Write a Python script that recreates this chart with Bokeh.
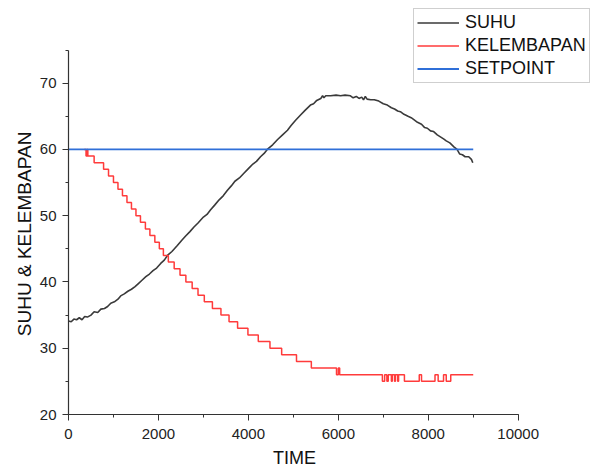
from bokeh.plotting import figure
from bokeh.models import Range1d, SingleIntervalTicker
from bokeh.embed import file_html
from bokeh.resources import INLINE

# SUHU (temperature) readings: (time, value)
time_suhu = [0, 60, 120, 180, 240, 300, 360, 420, 500, 570, 650, 720, 800, 870, 940,
             1020, 1100, 1160, 1240, 1320, 1400, 1480, 1560, 1640, 1720, 1800, 1880,
             1960, 2050, 2130, 2200, 2300, 2420, 2520, 2600, 2700, 2790, 2880, 3000,
             3080, 3160, 3250, 3350, 3440, 3530, 3620, 3700, 3800, 3900, 4000, 4100,
             4180, 4270, 4350, 4420, 4540, 4650, 4760, 4870, 4950, 5050, 5160, 5260,
             5380, 5450, 5520, 5610, 5650, 5680, 5720, 5830, 5950, 6050, 6150, 6270,
             6330, 6400, 6460, 6520, 6560, 6600, 6640, 6720, 6800, 6900, 7000, 7090,
             7180, 7250, 7320, 7380, 7460, 7550, 7620, 7680, 7760, 7850, 7920, 7980,
             8050, 8120, 8200, 8270, 8340, 8400, 8480, 8570, 8640, 8700, 8760, 8820,
             8900, 8960, 8990]
suhu = [34.1, 34.0, 34.4, 34.3, 34.6, 34.3, 34.8, 34.7, 35.0, 35.5, 35.4, 35.9, 36.0,
        36.3, 36.8, 37.0, 37.4, 37.9, 38.2, 38.6, 38.9, 39.3, 39.8, 40.3, 40.8, 41.2,
        41.7, 42.1, 42.8, 43.3, 44.0, 44.6, 45.5, 46.3, 46.9, 47.6, 48.3, 48.9, 49.8,
        50.2, 50.9, 51.6, 52.4, 53.0, 53.8, 54.5, 55.2, 55.7, 56.4, 57.1, 57.8, 58.2,
        58.9, 59.4, 60.0, 60.7, 61.5, 62.2, 62.9, 63.6, 64.4, 65.2, 65.9, 66.7, 66.9,
        67.4, 67.7, 68.1, 67.8, 68.1, 68.1, 68.2, 68.1, 68.2, 68.1, 67.8, 68.0, 67.7,
        67.9, 67.5, 68.0, 67.6, 67.5, 67.5, 67.3, 66.9, 66.7, 66.3, 66.1, 65.8, 65.7,
        65.3, 65.0, 64.8, 64.5, 64.1, 63.8, 63.3, 63.2, 62.8, 62.7, 62.2, 61.9, 61.6,
        61.3, 61.0, 60.4, 60.0, 59.3, 59.2, 58.9, 58.9, 58.5, 58.0]

# KELEMBAPAN (humidity) change points: value holds from each time until the next
time_kelembapan = [350, 390, 410, 430, 570, 780, 890, 1000, 1100, 1200, 1300, 1400,
                   1500, 1600, 1710, 1810, 1920, 2020, 2110, 2220, 2350, 2480, 2610,
                   2750, 2880, 3020, 3200, 3390, 3570, 3760, 3990, 4220, 4480, 4740,
                   5070, 5400, 5960, 6000, 6030, 6980, 7030, 7080, 7110, 7180, 7200,
                   7250, 7270, 7320, 7340, 7470, 7800, 7850, 8150, 8220, 8340, 8400,
                   8500, 9000]
kelembapan = [60, 59, 60, 59, 58, 57, 56, 55, 54, 53, 52, 51,
              50, 49, 48, 47, 46, 45, 44, 43, 42, 41, 40,
              39, 38, 37, 36, 35, 34, 33, 32, 31, 30, 29,
              28, 27, 26, 27, 26, 25, 26, 25, 26, 25, 26,
              25, 26, 25, 26, 25, 26, 25, 26, 25, 26, 25,
              26, 26]

# SETPOINT
time_setpoint = [0, 9000]
setpoint = [60, 60]

# axis extents drawn
x_axis_bounds = (0, 10000)
y_axis_bounds = (20, 75)

FONT = "Liberation Sans"
NB = "\u00a0"

p = figure(width=595, height=470, output_backend="svg", toolbar_location=None,
           x_range=Range1d(0, 11719), y_range=Range1d(20, 82.48),
           min_border_left=68, min_border_right=0, min_border_top=0,
           min_border_bottom=56, background_fill_color="white",
           border_fill_color="white")

p.xgrid.visible = False
p.ygrid.visible = False
p.outline_line_color = None

p.line(time_suhu, suhu, line_color="#3a3a3a", line_width=1.6, legend_label="SUHU")
p.step(time_kelembapan, kelembapan, mode="after", line_color="#ff3b3b",
       line_width=1.5, legend_label="KELEMBAPAN")
p.line(time_setpoint, setpoint, line_color="#2f6fd8", line_width=1.8,
       legend_label="SETPOINT")

p.xaxis.ticker = SingleIntervalTicker(interval=2000, num_minor_ticks=2)
p.yaxis.ticker = SingleIntervalTicker(interval=10, num_minor_ticks=2)
p.xaxis.bounds = x_axis_bounds
p.yaxis.bounds = y_axis_bounds
# trailing no-break spaces re-centre the labels on the drawn axis extents
p.xaxis.axis_label = "TIME" + NB * 15
p.yaxis.axis_label = "SUHU & KELEMBAPAN" + NB * 10

for ax in (p.xaxis[0], p.yaxis[0]):
    ax.axis_line_color = "#333333"
    ax.axis_line_width = 1.2
    ax.major_tick_line_color = "#333333"
    ax.minor_tick_line_color = "#333333"
    ax.major_tick_out = 6
    ax.major_tick_in = 0
    ax.minor_tick_out = 3
    ax.minor_tick_in = 0
    ax.major_label_text_font = FONT
    ax.major_label_text_font_size = "15px"
    ax.major_label_text_color = "#222222"
    ax.axis_label_text_font = FONT
    ax.axis_label_text_font_style = "normal"
    ax.axis_label_text_color = "#111111"

p.xaxis.axis_label_text_font_size = "18px"
p.yaxis.axis_label_text_font_size = "19px"
p.xaxis.major_label_standoff = 8
p.xaxis.axis_label_standoff = 6
p.yaxis.major_label_standoff = 6
p.yaxis.axis_label_standoff = 2

leg = p.legend[0]
leg.location = (345, 331)
leg.label_text_font = FONT
leg.label_text_font_size = "18px"
leg.label_text_color = "#111111"
leg.glyph_width = 42
leg.glyph_height = 21
leg.label_height = 21
leg.label_standoff = 6
leg.spacing = 2
leg.padding = 3
leg.margin = 0
leg.border_line_color = "#a0a0a0"
leg.border_line_width = 1
leg.background_fill_color = "white"
leg.background_fill_alpha = 1.0

open("out.html", "w").write(file_html(p, INLINE))
